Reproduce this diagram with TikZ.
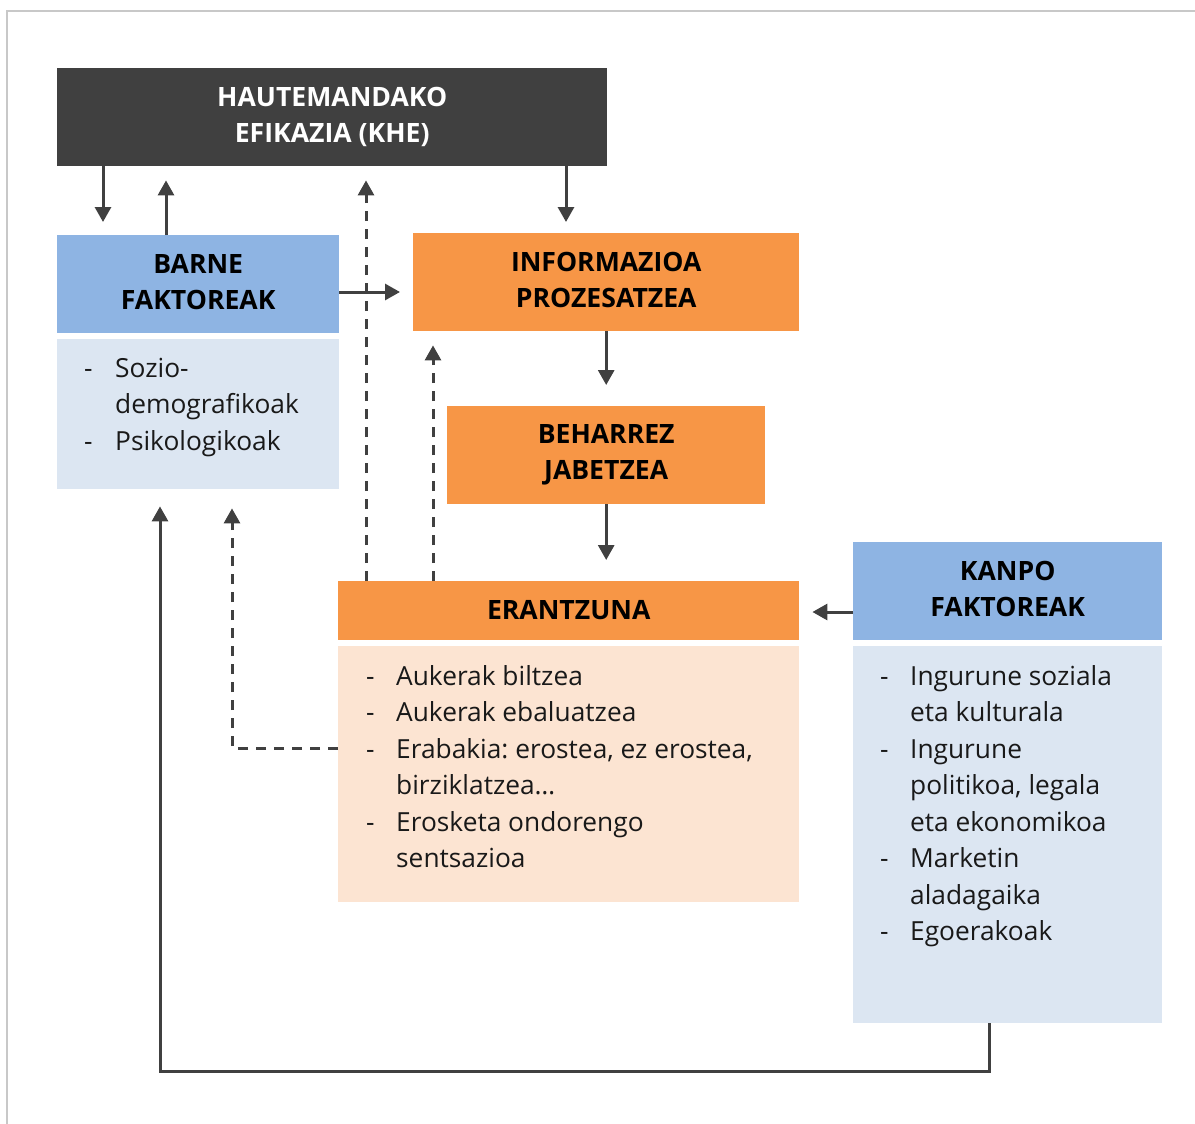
\documentclass[tikz,border=0pt]{standalone}
\usepackage{fontspec}
\setmainfont{Open Sans}
\frenchspacing
\usetikzlibrary{arrows.meta}
\definecolor{darkbox}{HTML}{404040}
\definecolor{bluehead}{HTML}{8EB4E3}
\definecolor{bluelist}{HTML}{DCE6F2}
\definecolor{orangehead}{HTML}{F79646}
\definecolor{peachlist}{HTML}{FCE4D2}
\definecolor{linegray}{HTML}{404040}
\definecolor{framegray}{HTML}{C8C8C8}
\newcommand{\listfont}{\fontsize{26.3}{36.5}\selectfont}
\newcommand{\headfont}{\fontsize{26.6}{36}\selectfont\bfseries}
\tikzset{
  panel/.style={rectangle, inner sep=0pt, anchor=north west, draw=none},
  headtext/.style={font=\headfont, align=center, inner sep=0pt},
  listtext/.style={font=\listfont, anchor=base west, inner sep=0pt, text=black!90},
  arr/.style={draw=linegray, line width=3pt, -{Triangle[width=16pt,length=15pt]}},
  darr/.style={arr, dash pattern=on 10pt off 8pt},
  plain/.style={draw=linegray, line width=3pt}
}
\begin{document}
\begin{tikzpicture}[x=1pt, y=-1pt]
\useasboundingbox (0,0) rectangle (1195,1124);
% outer frame
\draw[framegray, line width=2pt] (7,1124) -- (7,11) -- (1195,11);

% boxes
\node[panel, fill=darkbox, minimum width=550pt, minimum height=98pt] (khe) at (57,68) {};
\node[headtext, text=white] (khet) at (khe.center) {HAUTEMANDAKO\\EFIKAZIA (KHE)};

\node[panel, fill=bluehead, minimum width=282pt, minimum height=98pt] (barne) at (57,235) {};
\node[headtext] (barnet) at ([yshift=2pt]barne.center) {BARNE\\FAKTOREAK};
\node[panel, fill=bluelist, minimum width=282pt, minimum height=150pt] (barnel) at (57,339) {};
\node[listtext] (barnelt) at (84,377) {\begin{tabular}[t]{@{}p{31pt}@{}l@{}}
- & Sozio-\\
  & demografikoak\\
- & Psikologikoak
\end{tabular}};

\node[panel, fill=orangehead, minimum width=386pt, minimum height=98pt] (info) at (413,233) {};
\node[headtext] (infot) at ([yshift=2pt]info.center) {INFORMAZIOA\\PROZESATZEA};

\node[panel, fill=orangehead, minimum width=318pt, minimum height=98pt] (beh) at (447,406) {};
\node[headtext] (beht) at (beh.center) {BEHARREZ\\JABETZEA};

\node[panel, fill=orangehead, minimum width=461pt, minimum height=59pt] (era) at (338,581) {};
\node[headtext] (erat) at ([yshift=1pt]era.center) {ERANTZUNA};
\node[panel, fill=peachlist, minimum width=461pt, minimum height=256pt] (eral) at (338,646) {};
\node[listtext] (eralt) at (366,685) {\begin{tabular}[t]{@{}p{30pt}@{}l@{}}
- & Aukerak biltzea\\
- & Aukerak ebaluatzea\\
- & Erabakia: erostea, ez erostea,\\
  & birziklatzea…\\
- & Erosketa ondorengo\\
  & sentsazioa
\end{tabular}};

\node[panel, fill=bluehead, minimum width=309pt, minimum height=98pt] (kanpo) at (853,542) {};
\node[headtext] (kanpot) at ([yshift=2pt]kanpo.center) {KANPO\\FAKTOREAK};
\node[panel, fill=bluelist, minimum width=309pt, minimum height=377pt] (kanpol) at (853,646) {};
\node[listtext] (kanpolt) at (880,685) {\begin{tabular}[t]{@{}p{30pt}@{}l@{}}
- & Ingurune soziala\\
  & eta kulturala\\
- & Ingurune\\
  & politikoa, legala\\
  & eta ekonomikoa\\
- & Marketin\\
  & aladagaika\\
- & Egoerakoak
\end{tabular}};

% connectors (y grows downward; shifts are in page direction, positive = up)
\draw[arr] ([xshift=46pt]khe.south west) -- ([xshift=46pt,yshift=13pt]barne.north west);
\draw[arr] ([xshift=109pt]barne.north west) -- ([xshift=109pt,yshift=-14pt]khe.south west);
\draw[darr] ([xshift=28pt]era.north west) -- ([xshift=309pt,yshift=-14pt]khe.south west);
\draw[arr] ([yshift=-57pt]barne.north east) -- ([xshift=-13pt,yshift=-59pt]info.north west);
\draw[arr] ([xshift=509pt]khe.south west) -- ([xshift=153pt,yshift=11pt]info.north west);
\draw[arr] (info.south -| beh.north) -- ([yshift=21pt]beh.north);
\draw[arr] (beh.south) -- ([yshift=21pt]beh.south |- era.north);
\draw[darr] ([xshift=95pt]era.north west) -- ([xshift=20pt,yshift=-14pt]info.south west);
\coordinate (dashcorner) at (232,748);
\draw[darr] ([yshift=-102pt]eral.north west) -- (dashcorner) -- ([xshift=175pt,yshift=-19pt]barnel.south west);
\draw[arr] ([yshift=-70pt]kanpo.north west) -- ([xshift=13pt,yshift=-31pt]era.north east);
\coordinate (loopright) at (989,1071);
\coordinate (loopleft) at (160,1071);
\draw[arr] ([xshift=136pt]kanpol.south west) -- (loopright) -- (loopleft) -- ([xshift=103pt,yshift=-17pt]barnel.south west);
\end{tikzpicture}
\end{document}
